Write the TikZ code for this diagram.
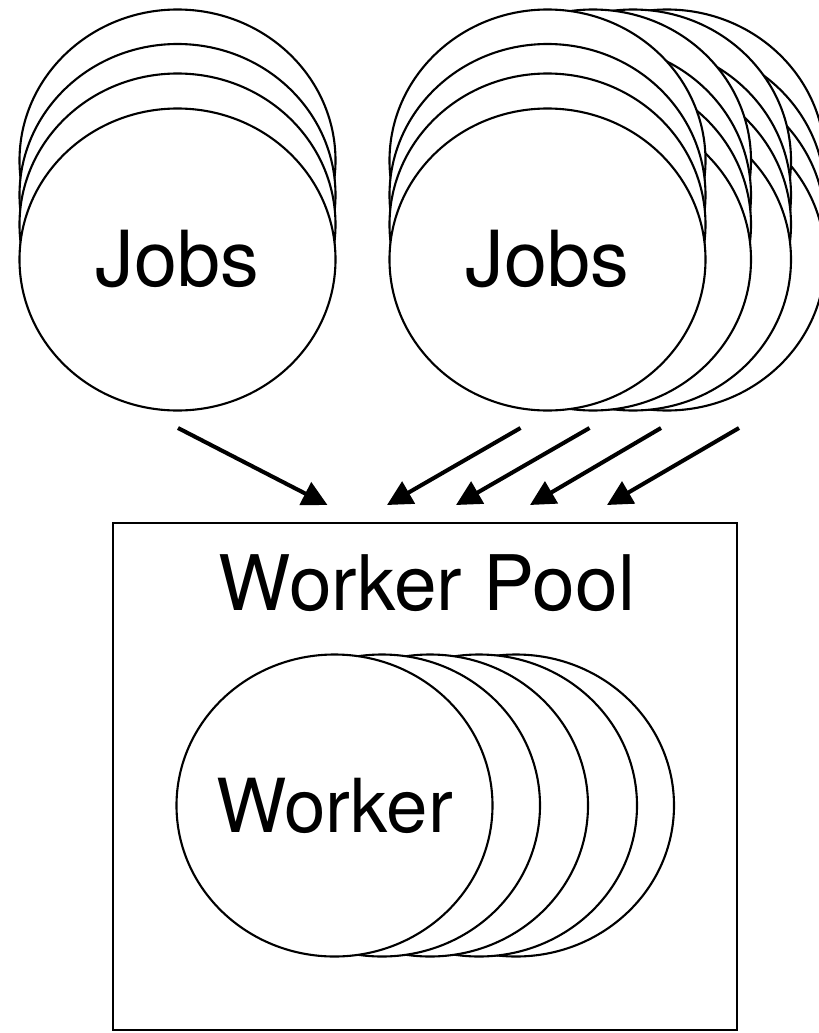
\documentclass[tikz,border=0pt]{standalone}
\usepackage{fontspec}
\setmainfont{TeX Gyre Heros}
\usetikzlibrary{arrows.meta,shapes.geometric}

\begin{document}
\begin{tikzpicture}[every node/.style={font=\fontsize{44}{52}\selectfont}, >={Triangle[length=5mm, width=5mm]}, job/.style={ellipse, draw, fill=white, line width=1.2pt, inner sep=0pt, minimum width=6.32cm, minimum height=6.04cm}, poolbox/.style={draw, line width=1.4pt, minimum width=12.48cm, minimum height=10.15cm}]
	\useasboundingbox (0,0) rectangle (16.36,-20.66);
	% left stack
	\node[job] (l4) at (3.55,-3.21) {};
	\node[job] (l3) at (3.55,-3.9) {};
	\node[job] (l2) at (3.55,-4.49) {};
	\node[job] (jobsL) at (3.55,-5.19) {Jobs};
	% right stack, back column first
	\node[job] (r44) at (13.34,-3.21) {}; \node[job] (r43) at (13.34,-3.9) {}; \node[job] (r42) at (13.34,-4.49) {}; \node[job] (r41) at (13.34,-5.19) {};
	\node[job] (r34) at (12.66,-3.21) {}; \node[job] (r33) at (12.66,-3.9) {}; \node[job] (r32) at (12.66,-4.49) {}; \node[job] (r31) at (12.66,-5.19) {};
	\node[job] (r24) at (11.86,-3.21) {}; \node[job] (r23) at (11.86,-3.9) {}; \node[job] (r22) at (11.86,-4.49) {}; \node[job] (r21) at (11.86,-5.19) {};
	\node[job] (r14) at (10.95,-3.21) {}; \node[job] (r13) at (10.95,-3.9) {}; \node[job] (r12) at (10.95,-4.49) {};
	\node[job] (jobsR) at (10.95,-5.19) {Jobs};
	% pool
	\node[poolbox] (pool) at (8.5,-15.53) {};
	\node[font=\fontsize{43.6}{52}\selectfont] (title) at (8.54,-11.66) {Worker Pool};
	\node[job] (w5) at (10.32,-16.11) {}; \node[job] (w4) at (9.58,-16.11) {}; \node[job] (w3) at (8.6,-16.11) {}; \node[job] (w2) at (7.64,-16.11) {};
	\node[job, label={[font=\fontsize{42.4}{50}\selectfont]center:Worker}] (worker) at (6.69,-16.11) {};
	% arrows
	\coordinate (t1) at (3.56,-8.56); \coordinate (h1) at (6.55,-10.1);
	\coordinate (t2) at (10.41,-8.56); \coordinate (h2) at (7.74,-10.1);
	\coordinate (t3) at (11.79,-8.56); \coordinate (h3) at (9.12,-10.1);
	\coordinate (t4) at (13.22,-8.56); \coordinate (h4) at (10.6,-10.1);
	\coordinate (t5) at (14.78,-8.56); \coordinate (h5) at (12.14,-10.1);
	\draw[->, line width=2.3pt] (t1) -- (h1);
	\draw[->, line width=2.3pt] (t2) -- (h2); \draw[->, line width=2.3pt] (t3) -- (h3);
	\draw[->, line width=2.3pt] (t4) -- (h4); \draw[->, line width=2.3pt] (t5) -- (h5);
\end{tikzpicture}
\end{document}
